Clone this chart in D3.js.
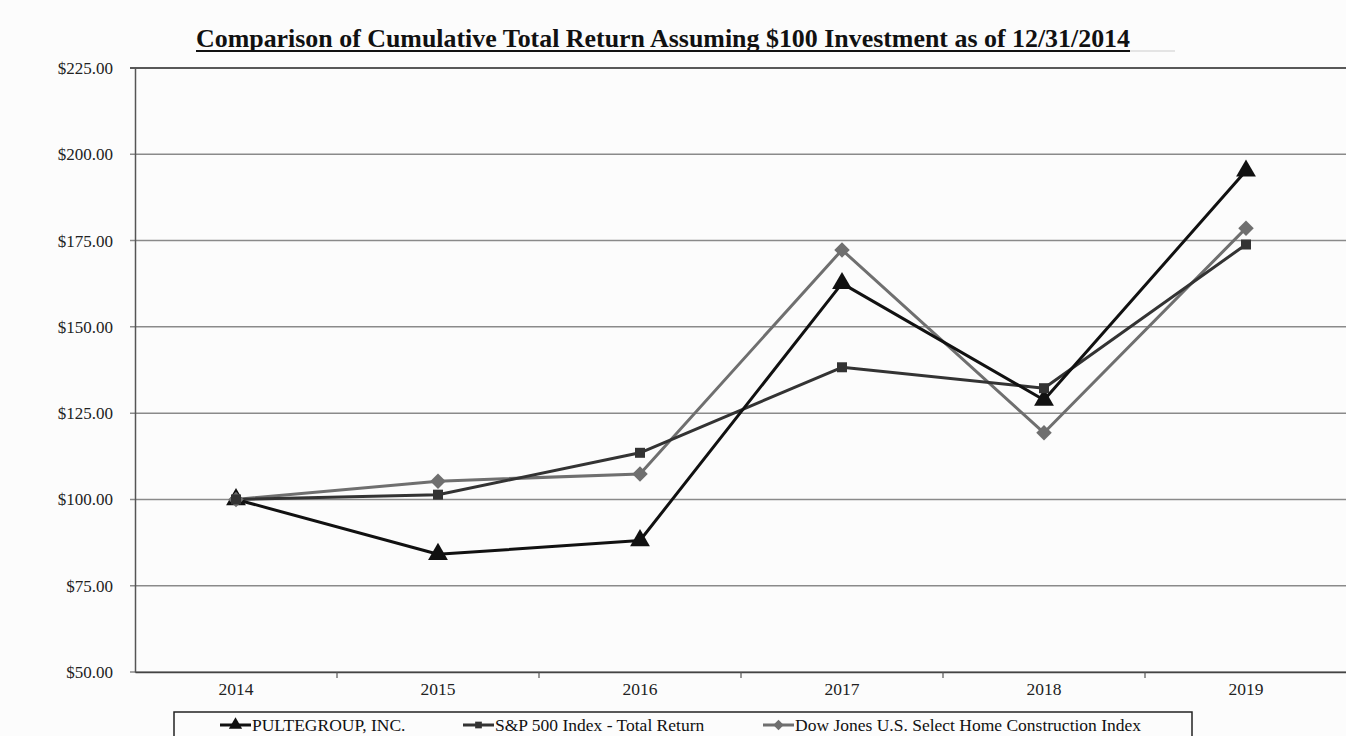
<!DOCTYPE html>
<html><head><meta charset="utf-8">
<script src="https://cdn.jsdelivr.net/npm/d3@7"></script>
<style>html,body{margin:0;padding:0;background:#fcfcfc;}svg{display:block;}</style>
</head><body>
<svg id="c" width="1346" height="736"></svg>
<script>
const years = ["2014","2015","2016","2017","2018","2019"];
const pulte = [100.00, 84.1, 88.1, 162.6, 128.8, 195.2];
const sp500 = [100.00, 101.38, 113.51, 138.29, 132.23, 173.86];
const dowJones = [100.00, 105.3, 107.4, 172.3, 119.3, 178.6];
const yTicks = [50,75,100,125,150,175,200,225];
const seriesNames = ["PULTEGROUP, INC.","S&P 500 Index - Total Return","Dow Jones U.S. Select Home Construction Index"];
const title = "Comparison of Cumulative Total Return Assuming $100 Investment as of 12/31/2014";

const svg = d3.select("#c");
const L = 135, R = 1347, T = 68, B = 672;
const x = d3.scaleBand().domain(years).range([L, R]);
const y = d3.scaleLinear().domain([50,225]).range([B, T]);
const serif = "'Liberation Serif','Times New Roman',serif";

// gridlines
svg.append("g").selectAll("line").data(yTicks).join("line")
  .attr("x1", L-5).attr("x2", R).attr("y1", d=>y(d)).attr("y2", d=>y(d))
  .attr("stroke", d=> d===225 ? "#222" : "#8a8a8a").attr("stroke-width", 1.5);

// y axis
const ya = svg.append("g").attr("transform",`translate(${L},0)`)
  .call(d3.axisLeft(y).tickValues(yTicks).tickSize(0).tickPadding(22).tickFormat(d=>"$"+d.toFixed(2)));
ya.select(".domain").attr("stroke","#555").attr("stroke-width",1.5);
ya.selectAll("text").attr("font-family",serif).attr("font-size",17).attr("fill","#222");

// x axis
const xa = svg.append("g").attr("transform",`translate(0,${B})`)
  .call(d3.axisBottom(x).tickSize(0).tickPadding(11));
xa.select(".domain").attr("stroke","#444").attr("stroke-width",1.5);
xa.selectAll("text").attr("font-family",serif).attr("font-size",17.5).attr("fill","#222");
svg.append("g").selectAll("line").data(years.slice(1)).join("line")
  .attr("x1",d=>x(d)).attr("x2",d=>x(d)).attr("y1",B).attr("y2",B+6)
  .attr("stroke","#555").attr("stroke-width",1.2);

const cx = d=> x(d)+x.bandwidth()/2;
const diamond = {draw(ctx,size){const r=Math.sqrt(size/2);ctx.moveTo(0,-r);ctx.lineTo(r,0);ctx.lineTo(0,r);ctx.lineTo(-r,0);ctx.closePath();}};
const series = [
  {vals:pulte, color:"#111", sym:d3.symbolTriangle, size:170},
  {vals:sp500, color:"#333", sym:d3.symbolSquare, size:100},
  {vals:dowJones, color:"#6f6f6f", sym:diamond, size:120}
];
const line = d3.line().x((d,i)=>cx(years[i])).y(d=>y(d));
[2,1,0].forEach(k=>{
  const s = series[k];
  svg.append("path").datum(s.vals).attr("d",line).attr("fill","none")
    .attr("stroke",s.color).attr("stroke-width",3).attr("stroke-linejoin","round");
});
[0,2,1].forEach(k=>{
  const s = series[k];
  svg.append("g").selectAll("path").data(s.vals).join("path")
    .attr("transform",(d,i)=>`translate(${cx(years[i])},${y(d)})`)
    .attr("d", d3.symbol().type(s.sym).size(s.size)).attr("fill",s.color);
});

// title
svg.append("text").attr("x",663).attr("y",47).attr("text-anchor","middle")
  .attr("font-family",serif).attr("font-weight","bold").attr("font-size",26)
  .attr("fill","#111").attr("textLength",934).attr("lengthAdjust","spacingAndGlyphs").text(title);
svg.append("line").attr("x1",196).attr("x2",1130).attr("y1",51).attr("y2",51).attr("stroke","#111").attr("stroke-width",2);
svg.append("line").attr("x1",1130).attr("x2",1175).attr("y1",51).attr("y2",51).attr("stroke","#ccc").attr("stroke-width",1);

// legend
svg.append("rect").attr("x",174).attr("y",712).attr("width",1018).attr("height",40)
  .attr("fill","none").attr("stroke","#222").attr("stroke-width",1.5);
const legX = [220, 463, 763];
series.forEach((s,k)=>{
  const g = svg.append("g").attr("transform",`translate(${legX[k]},725)`);
  g.append("line").attr("x1",0).attr("x2",31).attr("stroke",s.color).attr("stroke-width",3);
  g.append("path").attr("transform","translate(15.5,0)").attr("d",d3.symbol().type(s.sym).size(s.size*0.45)).attr("fill",s.color);
  g.append("text").attr("x",32).attr("y",6).attr("font-family",serif).attr("font-size",17.5)
    .attr("fill","#111").text(seriesNames[k]);
});
</script>
</body></html>
